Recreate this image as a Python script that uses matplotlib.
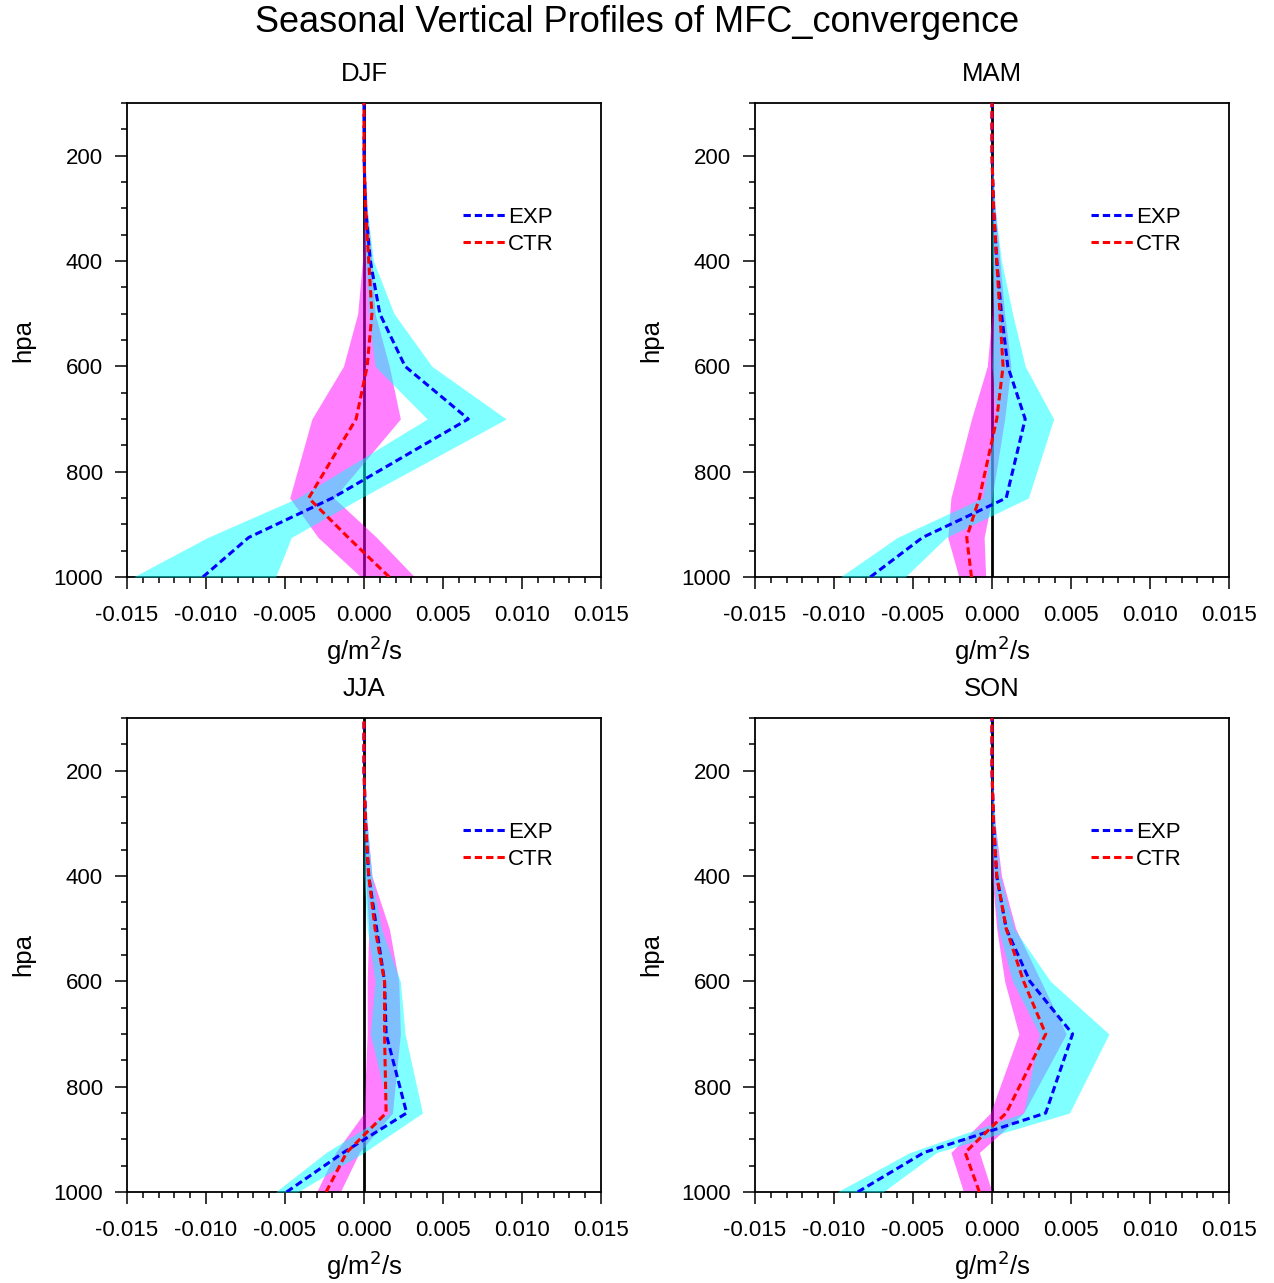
import numpy as np
import matplotlib
matplotlib.use("Agg")
from matplotlib import pyplot as plt
from matplotlib.ticker import MultipleLocator, FormatStrFormatter

plt.rcParams['font.family'] = ['Liberation Sans', 'DejaVu Sans']
plt.rcParams['axes.unicode_minus'] = False

# pressure levels (hPa), surface first
levels = [1000, 925, 850, 700, 600, 500, 400, 300, 250, 200, 150, 100]
seasons = ["DJF", "MAM", "JJA", "SON"]

# MFC convergence (g/m2/s): mean and spread for each run
djf_exp = [-0.0102, -0.0073, -0.0020, 0.0066, 0.0026, 0.0010, 0.0004, 0.0001, 0.00005, 0.0, 0.0, 0.0]
djf_exp_lo = [-0.0146, -0.0099, -0.0042, 0.0040, 0.0007, 0.0003, 0.0001, 0.0, 0.0, 0.0, 0.0, 0.0]
djf_exp_hi = [-0.0056, -0.0046, -0.0002, 0.0090, 0.0043, 0.0019, 0.0006, 0.0002, 0.0001, 0.00005, 0.0, 0.0]
djf_ctr = [0.0016, -0.0010, -0.0035, -0.0005, 0.0002, 0.0005, 0.0003, 0.0001, 0.00005, 0.0, 0.0, 0.0]
djf_ctr_lo = [-0.0002, -0.0029, -0.0047, -0.0033, -0.0013, -0.0004, -0.0001, 0.0, 0.0, 0.0, 0.0, 0.0]
djf_ctr_hi = [0.0032, 0.0008, -0.0019, 0.0023, 0.0016, 0.0007, 0.0005, 0.0002, 0.0001, 0.0, 0.0, 0.0]

mam_exp = [-0.0077, -0.0044, 0.0009, 0.0021, 0.0010, 0.0006, 0.0003, 0.0001, 0.00005, 0.0, 0.0, 0.0]
mam_exp_lo = [-0.0096, -0.0060, -0.0006, 0.0003, 0.0000, 0.0001, 0.0000, 0.0, 0.0, 0.0, 0.0, 0.0]
mam_exp_hi = [-0.0055, -0.0029, 0.0023, 0.0039, 0.0021, 0.0013, 0.0006, 0.0002, 0.0001, 0.0, 0.0, 0.0]
mam_ctr = [-0.0013, -0.0016, -0.0008, 0.0003, 0.0007, 0.0005, 0.0003, 0.0001, 0.00005, 0.0, 0.0, 0.0]
mam_ctr_lo = [-0.0021, -0.0028, -0.0026, -0.0013, -0.0003, 0.0000, 0.0001, 0.0, 0.0, 0.0, 0.0, 0.0]
mam_ctr_hi = [-0.0004, -0.0005, 0.0000, 0.0008, 0.0012, 0.0008, 0.0005, 0.0002, 0.0001, 0.0, 0.0, 0.0]

jja_exp = [-0.0049, -0.0013, 0.0027, 0.0014, 0.0013, 0.0008, 0.0003, 0.0001, 0.00005, 0.0, 0.0, 0.0]
jja_exp_lo = [-0.0056, -0.0024, 0.0016, 0.0004, 0.0007, 0.0002, 0.0000, 0.0, 0.0, 0.0, 0.0, 0.0]
jja_exp_hi = [-0.0042, 0.0000, 0.0037, 0.0026, 0.0023, 0.0011, 0.0005, 0.0002, 0.0001, 0.0, 0.0, 0.0]
jja_ctr = [-0.0024, -0.0011, 0.0014, 0.0013, 0.0013, 0.0007, 0.0003, 0.0001, 0.00005, 0.0, 0.0, 0.0]
jja_ctr_lo = [-0.0030, -0.0018, 0.0000, 0.0002, 0.0002, 0.0003, 0.0001, 0.0, 0.0, 0.0, 0.0, 0.0]
jja_ctr_hi = [-0.0015, -0.0003, 0.0018, 0.0023, 0.0022, 0.0016, 0.0005, 0.0002, 0.0001, 0.0, 0.0, 0.0]

son_exp = [-0.0085, -0.0043, 0.0034, 0.0051, 0.0024, 0.0009, 0.0003, 0.0001, 0.00005, 0.0, 0.0, 0.0]
son_exp_lo = [-0.0098, -0.0052, 0.0020, 0.0030, 0.0013, 0.0004, 0.0001, 0.0, 0.0, 0.0, 0.0, 0.0]
son_exp_hi = [-0.0069, -0.0035, 0.0049, 0.0074, 0.0037, 0.0014, 0.0005, 0.0002, 0.0001, 0.0, 0.0, 0.0]
son_ctr = [-0.0008, -0.0017, 0.0009, 0.0034, 0.0020, 0.0009, 0.0003, 0.0001, 0.00005, 0.0, 0.0, 0.0]
son_ctr_lo = [-0.0018, -0.0026, -0.0001, 0.0017, 0.0008, 0.0003, 0.0000, 0.0, 0.0, 0.0, 0.0, 0.0]
son_ctr_hi = [0.0000, -0.0008, 0.0020, 0.0047, 0.0031, 0.0015, 0.0006, 0.0002, 0.0001, 0.0, 0.0, 0.0]

profiles = {
    "DJF": (djf_exp, djf_exp_lo, djf_exp_hi, djf_ctr, djf_ctr_lo, djf_ctr_hi),
    "MAM": (mam_exp, mam_exp_lo, mam_exp_hi, mam_ctr, mam_ctr_lo, mam_ctr_hi),
    "JJA": (jja_exp, jja_exp_lo, jja_exp_hi, jja_ctr, jja_ctr_lo, jja_ctr_hi),
    "SON": (son_exp, son_exp_lo, son_exp_hi, son_ctr, son_ctr_lo, son_ctr_hi),
}

W, H = 1274, 1283
fig = plt.figure(figsize=(W / 100, H / 100), dpi=100)

# panel boxes in pixels: left, top
boxes = {"DJF": (127, 103), "MAM": (755, 103), "JJA": (127, 718), "SON": (755, 718)}
size = 474
dash = (0, (2.4, 1.3))

for s in seasons:
    left, top = boxes[s]
    ax = fig.add_axes([left / W, 1 - (top + size) / H, size / W, size / H])
    exp, exp_lo, exp_hi, ctr, ctr_lo, ctr_hi = profiles[s]

    ax.axvline(0, color='black', lw=2.0, zorder=1)
    ax.fill_betweenx(levels, ctr_lo, ctr_hi, color='magenta', alpha=0.5, lw=0, zorder=2)
    ax.fill_betweenx(levels, exp_lo, exp_hi, color='cyan', alpha=0.5, lw=0, zorder=3)
    ax.plot(exp, levels, color='blue', lw=2.2, linestyle=dash, label='EXP', zorder=4)
    ax.plot(ctr, levels, color='red', lw=2.2, linestyle=dash, label='CTR', zorder=4)

    ax.set_xlim(-0.015, 0.015)
    ax.set_ylim(1000, 100)
    ax.xaxis.set_major_locator(MultipleLocator(0.005))
    ax.xaxis.set_minor_locator(MultipleLocator(0.001))
    ax.xaxis.set_major_formatter(FormatStrFormatter('%.3f'))
    ax.yaxis.set_major_locator(MultipleLocator(200))
    ax.yaxis.set_minor_locator(MultipleLocator(50))
    ax.tick_params(which='both', direction='out', top=False, right=False,
                   labelsize=16, width=1.1)
    ax.tick_params(which='major', length=8.5)
    ax.tick_params(which='minor', length=4.5)
    ax.tick_params(axis='x', which='major', pad=12)
    ax.tick_params(axis='y', which='major', pad=9)
    for sp in ax.spines.values():
        sp.set_linewidth(1.3)

    ax.set_title(s, fontsize=18.5, pad=15.5)
    ax.set_xlabel('g/m$^2$/s', fontsize=18.5, labelpad=5)
    ax.set_ylabel('hpa', fontsize=18.5, labelpad=13)
    ax.legend(loc='upper left', bbox_to_anchor=(0.69, 0.80), frameon=False,
              fontsize=16, handlelength=1.9, handletextpad=0.12,
              labelspacing=0.28, borderaxespad=0)

fig.text(0.5, 1 - 22 / H, 'Seasonal Vertical Profiles of MFC_convergence',
         ha='center', va='center', fontsize=26)

fig.savefig('out.png', dpi=100)
